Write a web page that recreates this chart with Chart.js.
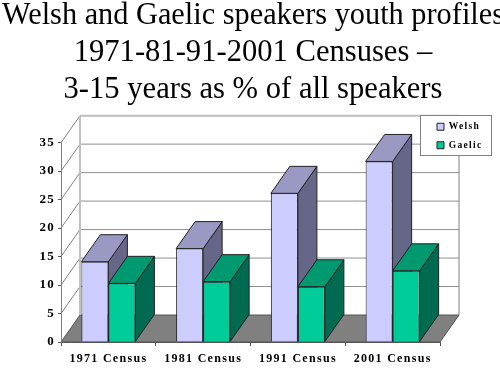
<!DOCTYPE html>
<html>
<head>
<meta charset="utf-8">
<style>html,body{margin:0;padding:0;background:#fff}#w{width:500px;height:375px;position:relative}</style>
<script src="https://cdn.jsdelivr.net/npm/chart.js@4"></script>
</head>
<body>
<div id="w"><canvas id="c"></canvas></div>
<script>
const titleLines = ["Welsh and Gaelic speakers youth profiles", "1971-81-91-2001 Censuses \u2013", "3-15 years as % of all speakers"];
const categories = ["1971 Census", "1981 Census", "1991 Census", "2001 Census"];
const welsh = [14.1, 16.4, 26.1, 31.7];
const gaelic = [10.3, 10.6, 9.7, 12.5];
const yMax = 35, yStep = 5;
const depthX = 19, depthY = 27;
const serif = '"Liberation Serif","Times New Roman",serif';

function poly(ctx, pts, fill, stroke) {
  ctx.beginPath();
  pts.forEach((p, i) => i ? ctx.lineTo(p[0], p[1]) : ctx.moveTo(p[0], p[1]));
  ctx.closePath();
  if (fill) { ctx.fillStyle = fill; ctx.fill(); }
  if (stroke) { ctx.strokeStyle = stroke; ctx.lineWidth = 1; ctx.stroke(); }
}
function line(ctx, a, b, color, w) {
  ctx.beginPath(); ctx.moveTo(a[0], a[1]); ctx.lineTo(b[0], b[1]);
  ctx.strokeStyle = color; ctx.lineWidth = w || 1; ctx.stroke();
}
const LEG = {left: 420, top: 115, width: 71, height: 40};

const scene3d = {
  id: 'scene3d',
  beforeLayout(chart) {
    const t = chart.titleBlock;
    t._layers = () => [{z: 1, draw(area) { t.draw(area); }}];
  },
  afterLayout(chart) {
    const l = chart.legend;
    l.left = LEG.left + 8; l.top = LEG.top - 2; l.width = LEG.width - 8; l.height = 200;
    l.right = LEG.left + LEG.width; l.bottom = LEG.top + 200;
    const t = chart.titleBlock;
    t.left = 2; t.right = 504; t.width = 502;
  },
  beforeDraw(chart) {
    const ctx = chart.ctx, a = chart.chartArea, y = chart.scales.y;
    ctx.save();
    const L = a.left, R = a.right, B = a.bottom;
    poly(ctx, [[L, B], [R, B], [R + depthX, B - depthY], [L + depthX, B - depthY]], '#808080', '#555');
    y.ticks.forEach(t => {
      const py = y.getPixelForValue(t.value);
      if (t.value > 0) {
        line(ctx, [L, py], [L + depthX, py - depthY], '#808080');
        line(ctx, [L + depthX, py - depthY], [R + depthX, py - depthY], '#909090');
      }
    });
    const top = y.getPixelForValue(yMax) - depthY;
    line(ctx, [L + depthX, top], [R + depthX, top], '#c0c0c0', 2);
    line(ctx, [L + depthX, top], [L + depthX, B - depthY], '#c0c0c0', 2);
    line(ctx, [R + depthX, top], [R + depthX, B - depthY], '#808080');
    ctx.fillStyle = '#fff';
    ctx.fillRect(LEG.left, LEG.top, LEG.width, LEG.height);
    ctx.strokeStyle = '#808080'; ctx.lineWidth = 1;
    ctx.strokeRect(LEG.left + .5, LEG.top + .5, LEG.width, LEG.height);
    ctx.restore();
    ctx.letterSpacing = '1.3px';
  },
  beforeDatasetsDraw(chart) {
    const ctx = chart.ctx;
    const shades = [{side: '#666688', top: '#9999C4'}, {side: '#006B50', top: '#009970'}];
    ctx.save();
    chart.data.datasets.forEach((d, di) => {
      chart.getDatasetMeta(di).data.forEach(bar => {
        const x0 = bar.x - bar.width / 2, x1 = bar.x + bar.width / 2;
        poly(ctx, [[x1, bar.y], [x1 + depthX, bar.y - depthY], [x1 + depthX, bar.base - depthY], [x1, bar.base]], shades[di].side, '#222');
        poly(ctx, [[x0, bar.y], [x1, bar.y], [x1 + depthX, bar.y - depthY], [x0 + depthX, bar.y - depthY]], shades[di].top, '#222');
      });
    });
    ctx.restore();
  },
  afterDatasetsDraw(chart) {
    chart.ctx.letterSpacing = '0px';
  }
};

new Chart(document.getElementById('c'), {
  type: 'bar',
  data: {
    labels: categories,
    datasets: [
      {label: 'Welsh', data: welsh, backgroundColor: '#CCCCFF', borderColor: '#222', borderWidth: 1},
      {label: 'Gaelic', data: gaelic, backgroundColor: '#00CC99', borderColor: '#222', borderWidth: 1}
    ]
  },
  options: {
    responsive: true, maintainAspectRatio: false, animation: false,
    layout: {padding: {left: 0, right: 60, top: 0, bottom: 0}},
    datasets: {bar: {categoryPercentage: 0.57, barPercentage: 1}},
    plugins: {
      title: {display: true, text: titleLines, color: '#000',
        font: {family: serif, size: 30.6, weight: 'normal', lineHeight: 1.2},
        padding: {top: -2, bottom: 34.5}},
      legend: {position: 'chartArea', align: 'start',
        labels: {boxWidth: 7, boxHeight: 7, padding: 9, color: '#000', font: {family: serif, size: 9.5, weight: 'bold'}}},
      tooltip: {enabled: false}
    },
    scales: {
      x: {
        grid: {drawOnChartArea: false, drawTicks: true, tickLength: 4, color: '#555', offset: true},
        border: {color: '#555'},
        ticks: {color: '#000', padding: 6, maxRotation: 0, font: {family: serif, size: 12, weight: 'bold'}},
        afterFit(s) { s.height = 33; }
      },
      y: {
        min: 0, max: yMax,
        grid: {drawOnChartArea: false, drawTicks: true, tickLength: 3, color: '#555'},
        border: {color: '#808080'},
        ticks: {stepSize: yStep, color: '#000', padding: 3, font: {family: serif, size: 13, weight: 'bold'}},
        afterFit(s) { s.width = 61; }
      }
    }
  },
  plugins: [scene3d]
});
</script>
</body>
</html>
